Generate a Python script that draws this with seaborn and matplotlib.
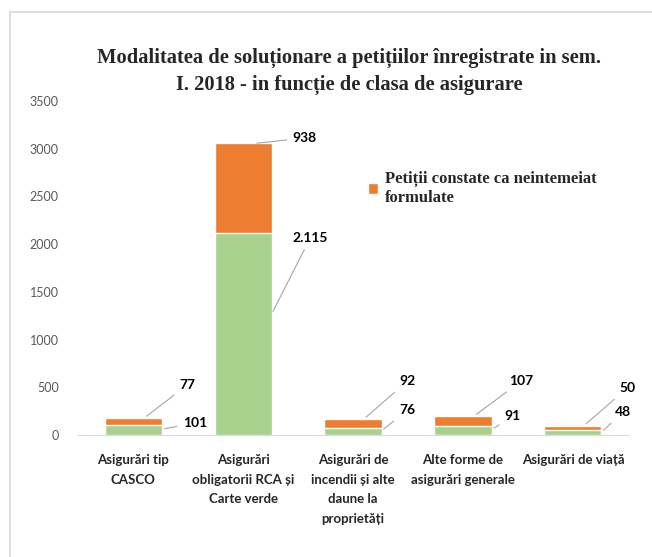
import matplotlib
matplotlib.use("Agg")
import matplotlib.pyplot as plt
import seaborn as sns
import pandas as pd
from matplotlib.patches import Rectangle

categories = ["Asigurări tip\nCASCO", "Asigurări\nobligatorii RCA și\nCarte verde",
              "Asigurări de\nincendii și alte\ndaune la\nproprietăți",
              "Alte forme de\nasigurări generale", "Asigurări de viață"]
green_vals = [101, 2115, 76, 91, 48]
orange_vals = [77, 938, 92, 107, 50]
green_labels = ["101", "2.115", "76", "91", "48"]
orange_labels = ["77", "938", "92", "107", "50"]
yticks = [0, 500, 1000, 1500, 2000, 2500, 3000, 3500]

green = "#a9d18e"
orange = "#ed7d31"

sns.set_style("white")
df = pd.DataFrame({"cat": categories, "green": green_vals, "orange": orange_vals})
df["total"] = df["green"] + df["orange"]

fig = plt.figure(figsize=(6.52, 5.57), dpi=100)
ax = fig.add_axes([0.12, 0.219, 0.843, 0.6])

sns.barplot(data=df, x="cat", y="total", color=orange, width=0.52, ax=ax,
            label="Petiții constate ca neintemeiat\nformulate", saturation=1)
sns.barplot(data=df, x="cat", y="green", color=green, width=0.52, ax=ax, saturation=1)

ax.set_ylim(0, 3500)
ax.set_xlim(-0.5, 4.5)
ax.set_yticks(yticks)
ax.set_yticklabels([str(t) for t in yticks], color="#595959", fontsize=9,
                   family="Lato")
ax.set_xticks(range(len(categories)))
ax.set_xticklabels(categories, fontsize=9.5, family="Lato", fontweight="bold",
                   color="#262626", linespacing=1.75)
ax.tick_params(axis="x", length=0, pad=14)
ax.tick_params(axis="y", length=0, pad=14)
ax.set_xlabel("")
ax.set_ylabel("")
for s in ["top", "right", "left"]:
    ax.spines[s].set_visible(False)
ax.spines["bottom"].set_color("#d9d9d9")

# data labels with leader lines (offsets in category units / data units)
orange_off = [(0.42, 525), (0.45, 3110), (0.42, 565), (0.42, 565), (0.42, 490)]
green_off = [(0.45, 125), (0.45, 2065), (0.42, 260), (0.38, 200), (0.38, 240)]
lk = dict(fontsize=10, fontweight="bold", family="Lato", color="black",
          ha="left", va="center")
ap = dict(arrowstyle="-", color="#a6a6a6", lw=0.8)
for i in range(len(categories)):
    g, o = green_vals[i], orange_vals[i]
    dx, ty = orange_off[i]
    ax.annotate(orange_labels[i], xy=(i + 0.1, g + o), xytext=(i + dx, ty),
                arrowprops=ap, **lk)
    dx, ty = green_off[i]
    ax.annotate(green_labels[i], xy=(i + 0.26, g * 0.6), xytext=(i + dx, ty),
                arrowprops=ap, **lk)

h, l = ax.get_legend_handles_labels()
leg = ax.legend(h[:1], l[:1], loc="upper left", bbox_to_anchor=(0.5, 0.835),
                frameon=False, handlelength=0.6, handleheight=0.6,
                handletextpad=0.4,
                prop=dict(family="Liberation Serif", weight="bold", size=12))

fig.suptitle("Modalitatea de soluționare a petițiilor înregistrate in sem.\n"
             "I. 2018 - in funcție de clasa de asigurare",
             x=0.535, y=0.915, fontsize=14.8, fontweight="bold",
             family="Liberation Serif", linespacing=1.5)

fig.patches.append(Rectangle((10 / 652, -0.01), 1.0, 1 - 12 / 557 + 0.01,
                             transform=fig.transFigure, fill=False,
                             edgecolor="#d9d9d9", lw=1.2))

fig.savefig("out.png", dpi=100)
